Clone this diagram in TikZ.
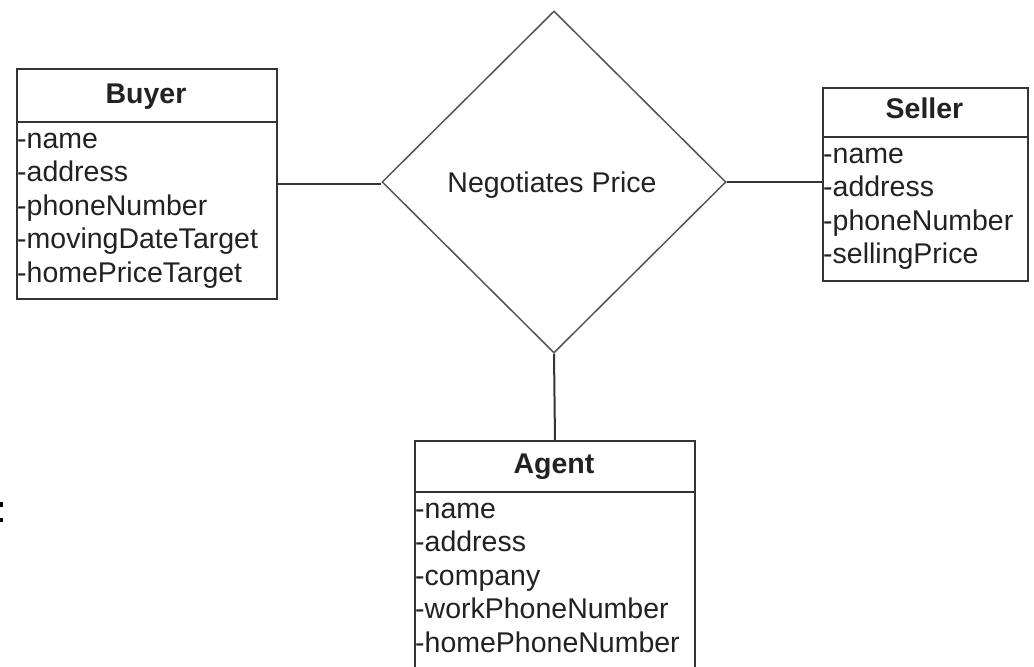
\documentclass[tikz,border=0pt]{standalone}
\usepackage{fontspec}
\setmainfont{Liberation Sans}
\usetikzlibrary{shapes.geometric}

\definecolor{edge}{HTML}{333333}
\definecolor{ink}{HTML}{222222}
\definecolor{relline}{HTML}{555555}

\tikzset{
  entity/.style={draw=edge, line width=2pt, fill=white, inner sep=0pt, anchor=north west},
  divider/.style={draw=edge, line width=2pt},
  title/.style={font=\fontsize{28.5}{33}\selectfont\bfseries, text=ink, inner sep=0pt, anchor=base},
  attr/.style={font=\fontsize{28.5}{33}\selectfont, text=ink, inner sep=0pt, anchor=base west},
  relation/.style={diamond, draw=relline, line width=1.5pt, inner sep=0pt, fill=white,
    minimum width=344pt, minimum height=342pt,
    font=\fontsize{28.5}{33}\selectfont, text=ink},
  link/.style={draw=edge, line width=2pt},
  speck/.style={fill=black, draw=none}
}

\begin{document}
\begin{tikzpicture}[x=1pt, y=-1pt]
  \useasboundingbox (0,0) rectangle (1034,667);
  \clip (0,0) rectangle (1034,667);

  % relationship
  \node[relation] (rel) at (554,182) {};
  \node[font=\fontsize{28.5}{33}\selectfont, text=ink, inner sep=0pt, anchor=base]
    (rel-t) at (552,192) {Negotiates Price};

  % Buyer entity
  \node[entity, minimum width=260pt, minimum height=230pt] (buyer) at (16,68) {};
  \draw[divider] (16,122) -- (276,122);
  \node[title] (buyer-t) at (146,103) {Buyer};
  \node[attr] (buyer-1) at (17,148)   {-name};
  \node[attr] (buyer-2) at (17,181.5) {-address};
  \node[attr] (buyer-3) at (17,215)   {-phoneNumber};
  \node[attr] (buyer-4) at (17,248.5) {-movingDateTarget};
  \node[attr] (buyer-5) at (17,282)   {-homePriceTarget};

  % Seller entity
  \node[entity, minimum width=205pt, minimum height=193pt] (seller) at (822,87) {};
  \draw[divider] (822,137) -- (1027,137);
  \node[title] (seller-t) at (924.5,118) {Seller};
  \node[attr] (seller-1) at (823,163)   {-name};
  \node[attr] (seller-2) at (823,196.5) {-address};
  \node[attr] (seller-3) at (823,230)   {-phoneNumber};
  \node[attr] (seller-4) at (823,263.5) {-sellingPrice};

  % Agent entity (runs past the lower edge)
  \node[entity, minimum width=280pt, minimum height=250pt] (agent) at (414,440) {};
  \draw[divider] (414,492) -- (694,492);
  \node[title] (agent-t) at (554,473) {Agent};
  \node[attr] (agent-1) at (415,518)   {-name};
  \node[attr] (agent-2) at (415,551.5) {-address};
  \node[attr] (agent-3) at (415,585)   {-company};
  \node[attr] (agent-4) at (415,618.5) {-workPhoneNumber};
  \node[attr] (agent-5) at (415,652)   {-homePhoneNumber};

  % connectors
  \draw[link] (buyer.east) -- (buyer.east -| rel.west);
  \draw[link] (rel.east) -- (seller.west |- rel.east);
  \draw[link] (rel.south) -- (agent.north);

  % specks on the left edge
  \fill[speck] (0,501.5) rectangle (3,506.5);
  \fill[speck] (0,517.5) rectangle (3,522);
\end{tikzpicture}
\end{document}
